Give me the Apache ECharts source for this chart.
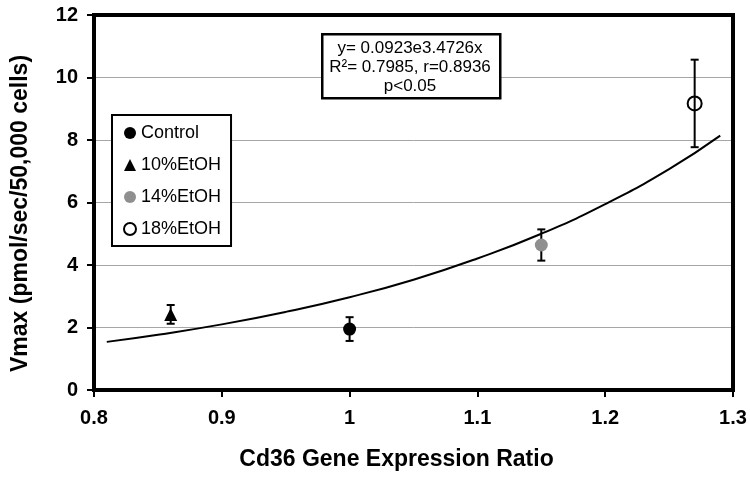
<!DOCTYPE html>
<html>
<head>
<meta charset="utf-8">
<script src="https://cdn.jsdelivr.net/npm/echarts@6/dist/echarts.min.js"></script>
<style>html,body{margin:0;padding:0;background:#fff}#c{width:750px;height:477px}</style>
</head>
<body>
<div id="c"></div>
<script>
const groups = ['Control', '10%EtOH', '14%EtOH', '18%EtOH'];
const xVals = [1.0, 0.86, 1.15, 1.27];
const yVals = [1.95, 2.42, 4.64, 9.17];
const errVals = [0.38, 0.30, 0.50, 1.40];
const fitX = [0.81, 0.85, 0.90, 0.95, 1.00, 1.05, 1.10, 1.15, 1.20, 1.25, 1.29];
const fitY = [1.54, 1.77, 2.10, 2.50, 2.97, 3.53, 4.21, 5.00, 5.95, 7.07, 8.14];
const xTicks = [0.8, 0.9, 1.0, 1.1, 1.2, 1.3];
const yTicks = [0, 2, 4, 6, 8, 10, 12];
const eqLines = ['y= 0.0923e3.4726x', 'R\u00b2= 0.7985, r=0.8936', 'p<0.05'];

const FONT = '"Liberation Sans", Arial, sans-serif';
const symbols = ['circle', 'triangle', 'circle', 'circle'];
const sizes = [13, 13, 13, 14];
const styles = [
  {color: '#000', opacity: 1},
  {color: '#000', opacity: 1},
  {color: '#8f8f8f', opacity: 1},
  {color: 'rgba(255,255,255,0)', borderColor: '#000', borderWidth: 2, opacity: 1}
];

const series = [];
series.push({
  type: 'line',
  data: fitX.map((x, i) => [x, fitY[i]]),
  smooth: true,
  showSymbol: false,
  symbol: 'none',
  lineStyle: {color: '#000', width: 2},
  z: 2,
  silent: true
});
series.push({
  type: 'custom',
  data: xVals.map((x, i) => [x, yVals[i], errVals[i]]),
  z: 3,
  renderItem: function (params, api) {
    const x = api.value(0), y = api.value(1), e = api.value(2);
    const top = api.coord([x, y + e]);
    const bot = api.coord([x, y - e]);
    const w = 4;
    const st = {stroke: '#000', lineWidth: 2};
    return {
      type: 'group',
      children: [
        {type: 'line', shape: {x1: top[0], y1: top[1], x2: bot[0], y2: bot[1]}, style: st},
        {type: 'line', shape: {x1: top[0] - w, y1: top[1], x2: top[0] + w, y2: top[1]}, style: st},
        {type: 'line', shape: {x1: bot[0] - w, y1: bot[1], x2: bot[0] + w, y2: bot[1]}, style: st}
      ]
    };
  }
});
groups.forEach((g, i) => {
  series.push({
    name: g,
    type: 'scatter',
    data: [[xVals[i], yVals[i]]],
    symbol: symbols[i],
    symbolSize: sizes[i],
    itemStyle: styles[i],
    z: i === 3 ? 2 : 4
  });
});

const chart = echarts.init(document.getElementById('c'), null, {renderer: 'canvas'});
chart.setOption({
  animation: false,
  backgroundColor: '#fff',
  textStyle: {fontFamily: FONT},
  grid: {left: 94, right: 17, top: 15, bottom: 87, show: true, borderColor: '#000', borderWidth: 4, backgroundColor: 'transparent', z: 5},
  xAxis: {
    type: 'value', min: xTicks[0], max: xTicks[xTicks.length - 1], interval: 0.1,
    axisLine: {show: true, lineStyle: {color: '#000', width: 4}},
    axisTick: {show: true, inside: false, length: 7, lineStyle: {color: '#000', width: 2}},
    splitLine: {show: false},
    axisLabel: {color: '#000', fontSize: 20, fontWeight: 'bold', fontFamily: FONT, margin: 18,
      formatter: v => String(+v.toFixed(1))},
    name: 'Cd36 Gene Expression Ratio', nameLocation: 'middle', nameGap: 58,
    nameTextStyle: {color: '#000', fontSize: 23, fontWeight: 'bold', fontFamily: FONT, padding: [0, 34, 0, 0]}
  },
  yAxis: {
    type: 'value', min: yTicks[0], max: yTicks[yTicks.length - 1], interval: 2,
    axisLine: {show: true, lineStyle: {color: '#000', width: 4}},
    axisTick: {show: true, inside: false, length: 7, lineStyle: {color: '#000', width: 2}},
    splitLine: {show: true, showMinLine: false, showMaxLine: false, lineStyle: {color: '#a6a6a6', width: 1}},
    axisLabel: {color: '#000', fontSize: 20, fontWeight: 'bold', fontFamily: FONT, margin: 16},
    name: 'Vmax (pmol/sec/50,000 cells)', nameLocation: 'middle', nameGap: 62, nameRotate: 90,
    nameTextStyle: {color: '#000', fontSize: 23, fontWeight: 'bold', fontFamily: FONT, padding: [0, 22, 0, 0]}
  },
  legend: {
    data: groups,
    orient: 'vertical',
    left: 112, top: 115,
    itemWidth: 12, itemHeight: 12, itemGap: 12, itemTextGap: 2,
    padding: [8, 10, 7, 11],
    backgroundColor: '#fff', borderColor: '#000', borderWidth: 2,
    textStyle: {color: '#000', fontSize: 18, fontFamily: FONT, lineHeight: 20},
    selectedMode: false
  },
  graphic: [
    {type: 'rect', left: 321, top: 33, z: 10,
      shape: {width: 178, height: 64}, style: {fill: '#fff', stroke: '#000', lineWidth: 2.5}},
    {type: 'text', top: 39, z: 11, left: 326,
      style: {text: eqLines.join('\n'), font: '17px ' + FONT, fill: '#000', textAlign: 'center', lineHeight: 19, width: 168}}
  ],
  series: series
});
</script>
</body>
</html>
